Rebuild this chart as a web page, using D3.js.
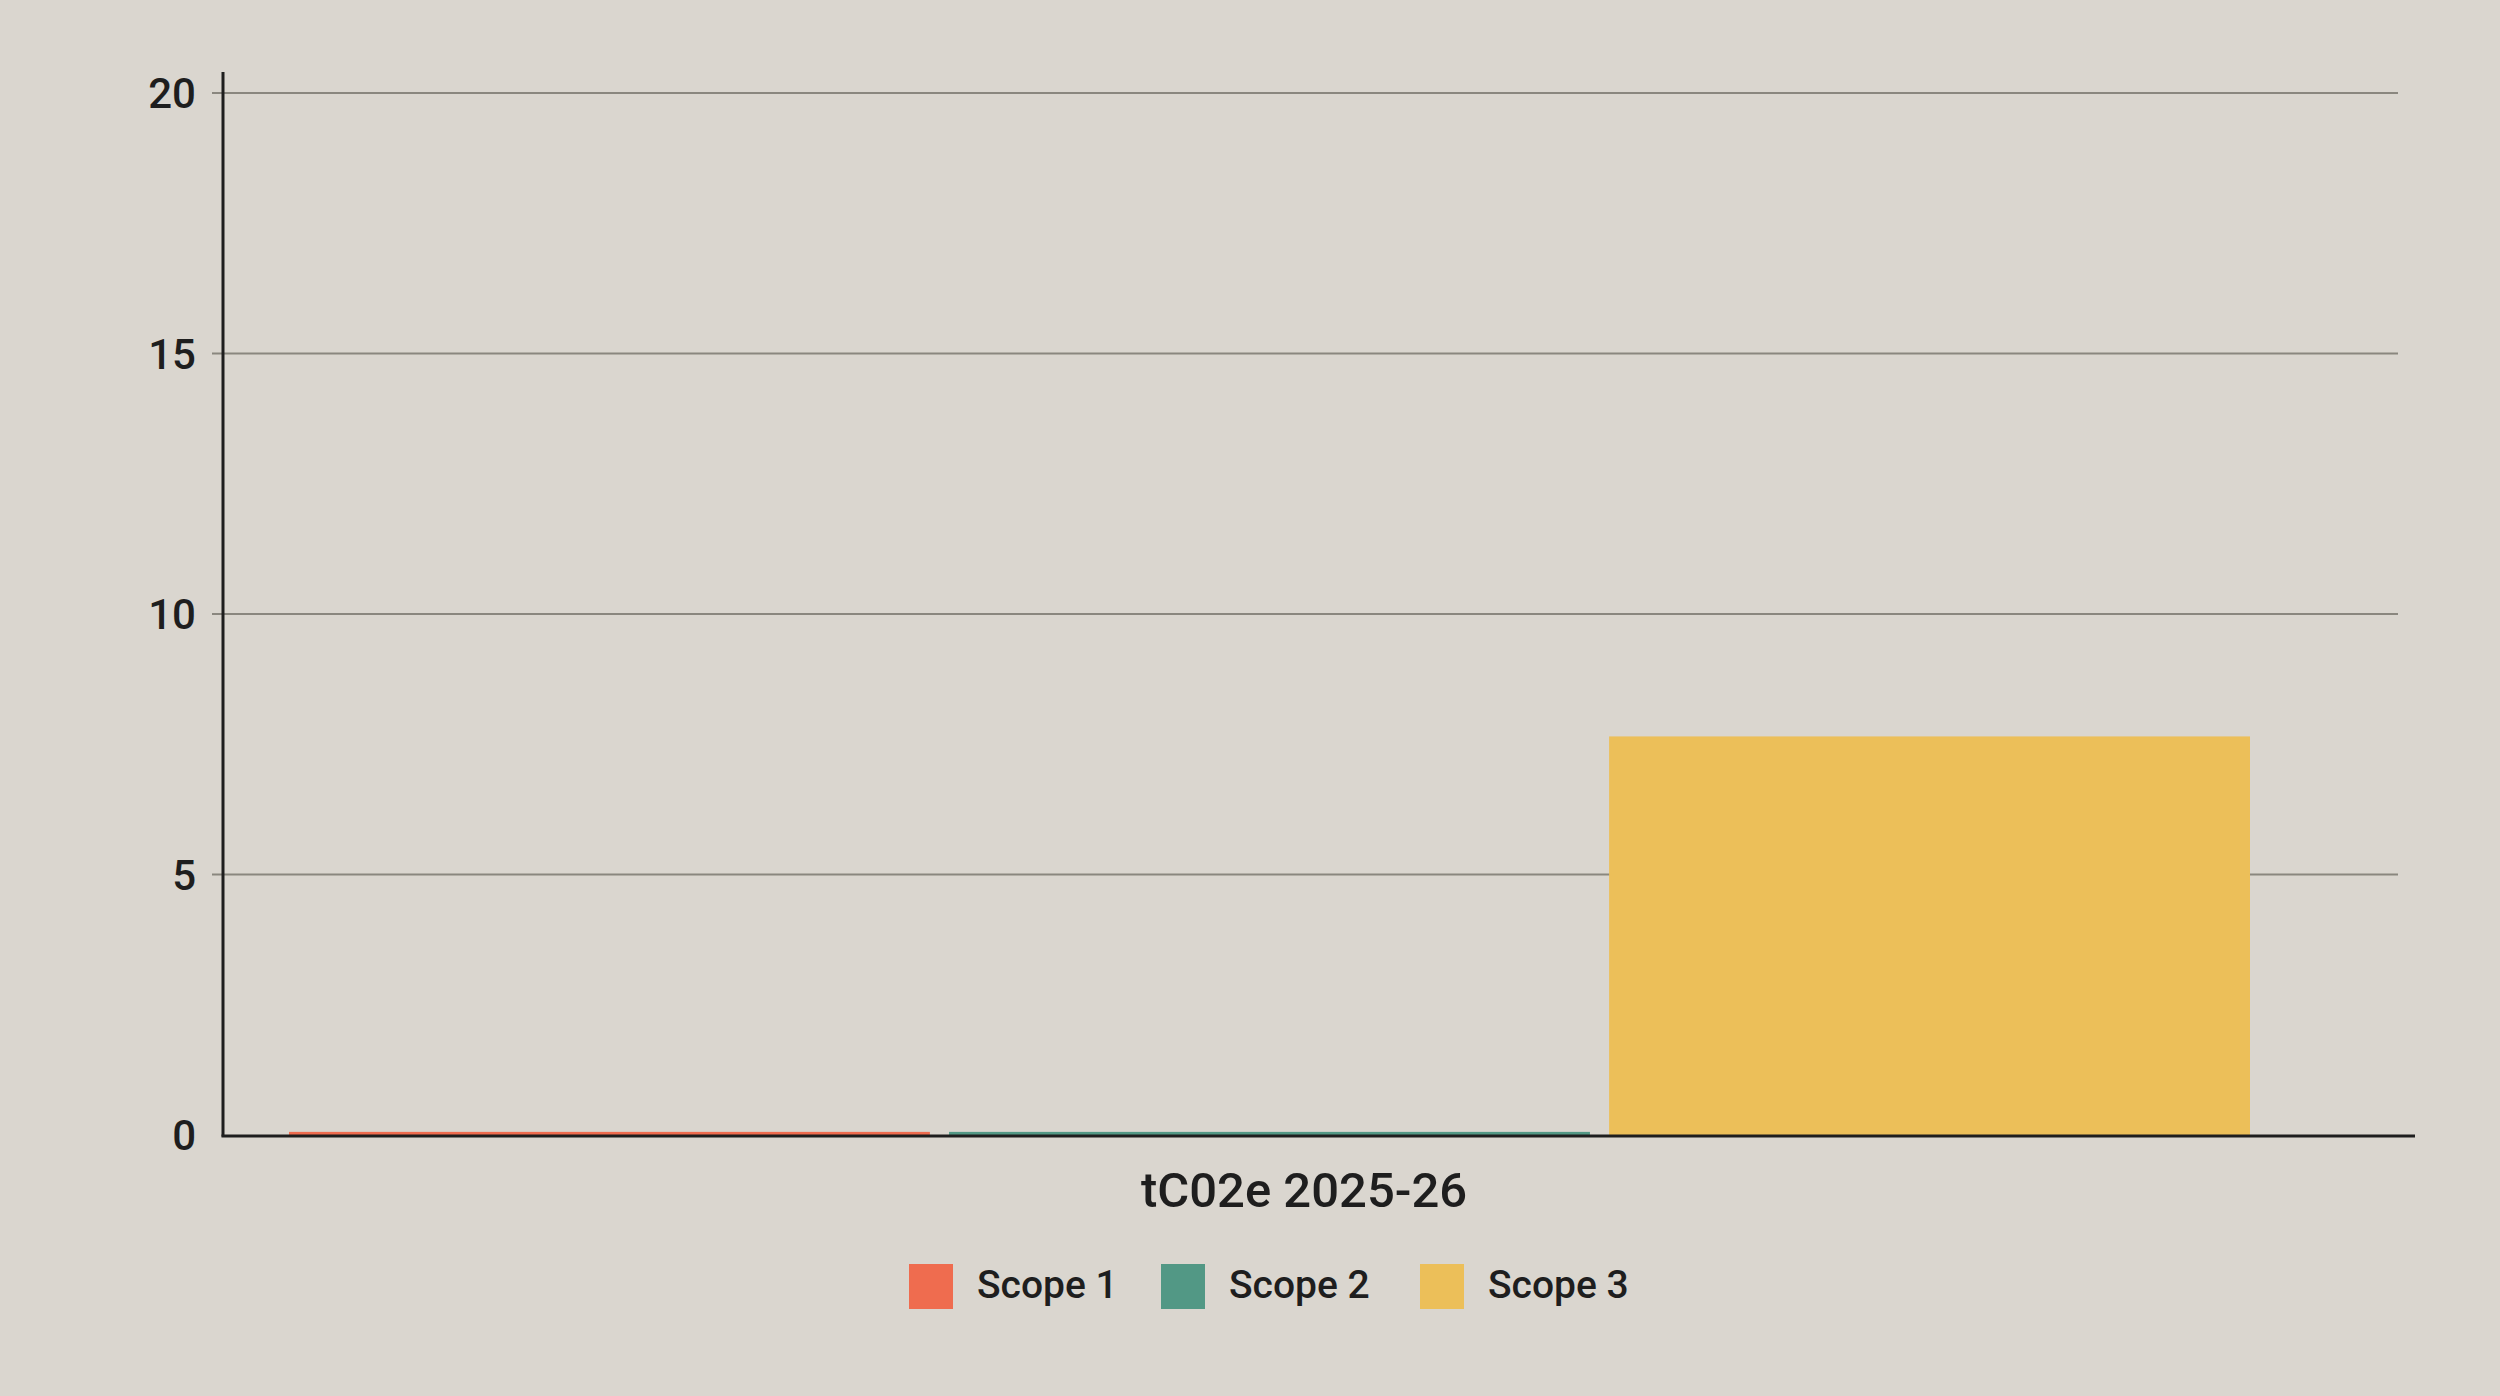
<!DOCTYPE html>
<html>
<head>
<meta charset="utf-8">
<script src="https://cdn.jsdelivr.net/npm/d3@7"></script>
<style>
  html, body { margin: 0; padding: 0; background: #dad6cf; }
  svg { display: block; font-family: Roboto, "Noto Sans", sans-serif; }
</style>
</head>
<body>
<div id="chart"></div>
<script>
var width = 2500;
var height = 1396;

// data
var category = "tC02e 2025-26";
var seriesNames = ["Scope 1", "Scope 2", "Scope 3"];
var seriesValues = [0.06, 0.06, 7.65];
var seriesColors = ["#ef6c4f", "#529885", "#ecbf59"];
var yTicks = [0, 5, 10, 15, 20];

var svg = d3
  .select("#chart")
  .append("svg")
  .attr("width", width)
  .attr("height", height);

svg.append("rect")
  .attr("width", width)
  .attr("height", height)
  .attr("fill", "#dad6cf");

var axisX = 223;
var plotRight = 2398;

var yScale = d3.scaleLinear()
  .domain([0, 20])
  .range([1135, 93]);

var xScale = d3.scaleBand()
  .domain(seriesNames)
  .range([289, 2250])
  .paddingInner(0.029);

// gridlines
svg.append("g")
  .selectAll("line")
  .data(yTicks.filter(function(d){ return d > 0; }))
  .enter()
  .append("line")
  .attr("x1", axisX - 11)
  .attr("x2", plotRight)
  .attr("y1", function(d){ return yScale(d); })
  .attr("y2", function(d){ return yScale(d); })
  .attr("stroke", "#8a877f")
  .attr("stroke-width", 2);

// y tick labels
svg.append("g")
  .selectAll("text")
  .data(yTicks)
  .enter()
  .append("text")
  .attr("x", 196)
  .attr("y", function(d){ return yScale(d); })
  .attr("dy", "0.36em")
  .attr("text-anchor", "end")
  .attr("font-size", 42)
  .attr("font-weight", 500)
  .attr("fill", "#1e1e1e")
  .text(function(d){ return d; });

// bars
svg.append("g")
  .selectAll("rect")
  .data(seriesNames)
  .enter()
  .append("rect")
  .attr("x", function(d){ return xScale(d); })
  .attr("width", xScale.bandwidth())
  .attr("y", function(d, i){ return yScale(seriesValues[i]); })
  .attr("height", function(d, i){ return yScale(0) - yScale(seriesValues[i]); })
  .attr("fill", function(d, i){ return seriesColors[i]; });

// axes lines
svg.append("line")
  .attr("x1", axisX).attr("x2", axisX)
  .attr("y1", 72).attr("y2", yScale(0) + 1.5)
  .attr("stroke", "#1e1e1e")
  .attr("stroke-width", 3);

svg.append("line")
  .attr("x1", axisX - 1.5).attr("x2", 2415)
  .attr("y1", yScale(0) + 1).attr("y2", yScale(0) + 1)
  .attr("stroke", "#1e1e1e")
  .attr("stroke-width", 3);

// category label
svg.append("text")
  .attr("x", 1304)
  .attr("y", 1207)
  .attr("text-anchor", "middle")
  .attr("font-size", 49)
  .attr("font-weight", 500)
  .attr("fill", "#1e1e1e")
  .text(category);

// legend
var legendX = [909, 1161, 1420];
var legend = svg.append("g")
  .selectAll("g")
  .data(seriesNames)
  .enter()
  .append("g")
  .attr("transform", function(d, i){ return "translate(" + legendX[i] + ",1264)"; });

legend.append("rect")
  .attr("width", 44)
  .attr("height", 45)
  .attr("fill", function(d, i){ return seriesColors[i]; });

legend.append("text")
  .attr("x", 68)
  .attr("y", 34)
  .attr("font-size", 39)
  .attr("font-weight", 500)
  .attr("fill", "#1e1e1e")
  .text(function(d){ return d; });
</script>
</body>
</html>
